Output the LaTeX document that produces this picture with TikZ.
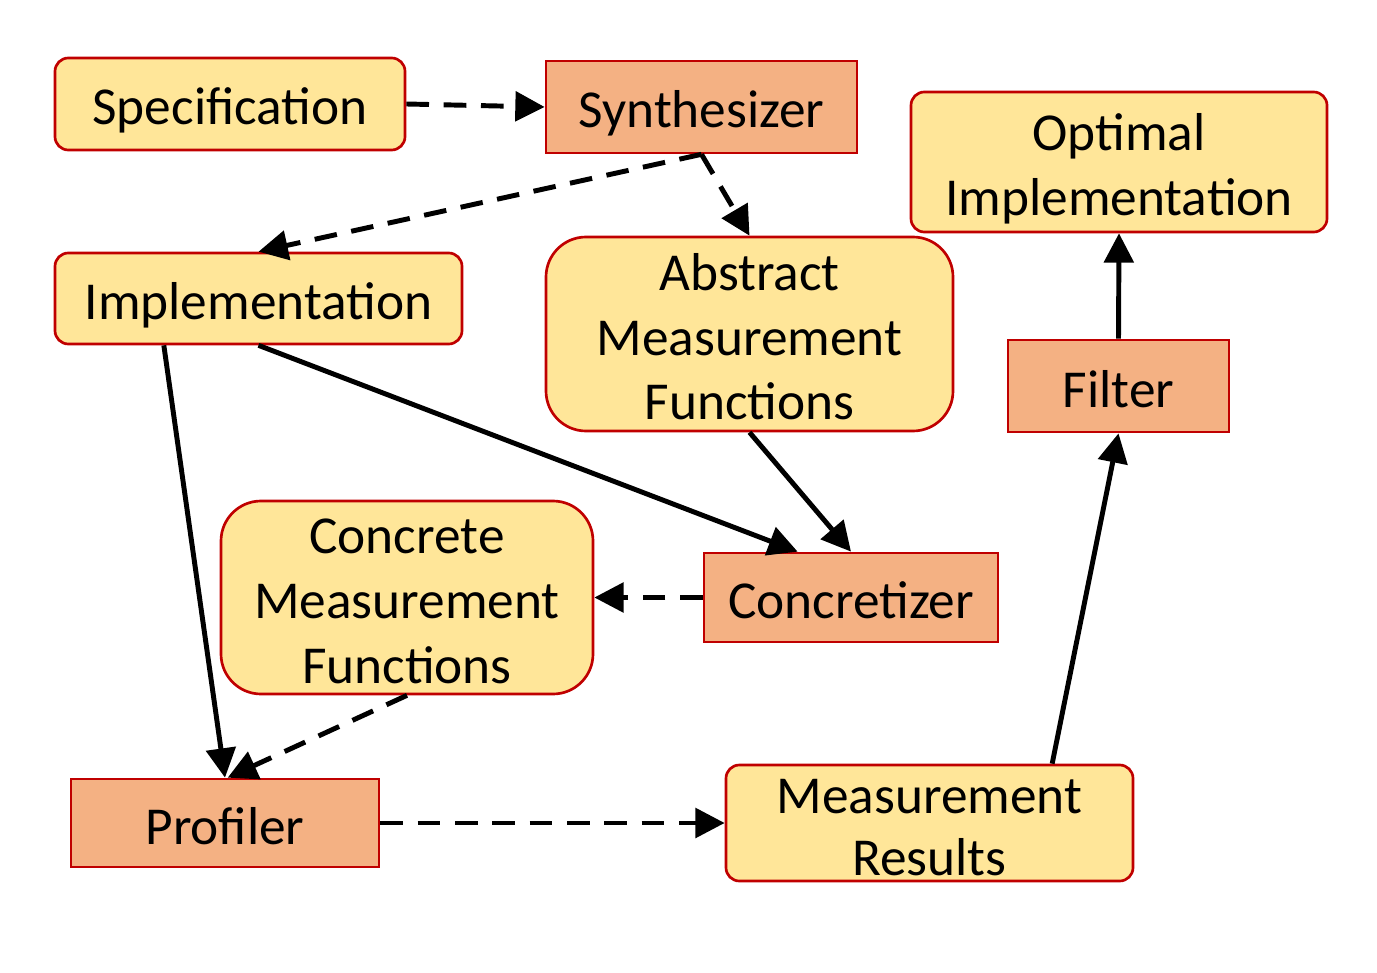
\documentclass[tikz,border=0pt]{standalone}
\usepackage{fontspec}
\setmainfont{Carlito}
\usetikzlibrary{arrows.meta,calc}
\definecolor{boxyellow}{HTML}{FFE699}
\definecolor{boxorange}{HTML}{F4B183}
\definecolor{boxred}{HTML}{C00000}
\newcommand{\ls}[1]{\rule[-3.5pt]{0pt}{38.5pt}\smash{#1}}
\newcommand{\boxfont}{\fontsize{40}{48.4}\selectfont\lineskiplimit=-100pt\relax}
\tikzset{
  base/.style={draw=boxred, line width=2pt, inner sep=0pt, align=center,
    font=\boxfont, text=black},
  rbox/.style={base, fill=boxyellow, rounded corners=10pt},
  bigbox/.style={base, fill=boxyellow, rounded corners=30pt},
  sbox/.style={base, fill=boxorange},
  conn/.style={line width=3.7pt, -{Triangle[length=22pt,width=22pt]}},
  dconn/.style={conn, dash pattern=on 17pt off 11pt},
}
\begin{document}
\begin{tikzpicture}[x=0.75pt,y=-0.75pt]
\useasboundingbox (0,0) rectangle (1377,973);
\node[rbox, minimum width=262.5pt, minimum height=69pt] (spec) at (230,104) {\ls{Specification}};
\node[sbox, minimum width=233.25pt, minimum height=69pt] (synth) at (701.5,107) {\ls{Synthesizer}};
\node[rbox, minimum width=312pt, minimum height=105pt] (opt) at (1119,162) {\ls{Optimal}\\\ls{Implementation}};
\node[rbox, minimum width=305.25pt, minimum height=68.25pt] (impl) at (258.5,298.5) {\ls{Implementation}};
\node[bigbox, minimum width=305.25pt, minimum height=145.5pt] (abs) at (749.5,334) {\ls{Abstract}\\\ls{Measurement}\\\ls{Functions}};
\node[sbox, minimum width=165.75pt, minimum height=69pt] (filter) at (1118.5,386) {\ls{Filter}};
\node[bigbox, minimum width=279pt, minimum height=144.75pt] (conc) at (407,597.5) {\ls{Concrete}\\\ls{Measurement}\\\ls{Functions}};
\node[sbox, minimum width=220.5pt, minimum height=66.75pt] (cz) at (851,597.5) {\ls{Concretizer}};
\node[sbox, minimum width=231pt, minimum height=66pt] (prof) at (225,823) {\ls{Profiler}};
\node[rbox, minimum width=305.25pt, minimum height=87pt] (res) at (929.5,823) {\ls{Measurement}\\[-1.9pt]\ls{Results}};

\draw[dconn] (spec.east) -- (synth.west);
\draw[dconn] (synth.south) -- (impl.north);
\draw[dconn] (synth.south) -- (abs.north);
\draw[conn] (impl.south) -- ([xshift=-40pt]cz.north);
\draw[conn] ([xshift=-71pt]impl.south) -- (prof.north);
\draw[conn] (abs.south) -- (cz.north);
\draw[dconn] (cz.west) -- (conc.east);
\draw[dconn] (conc.south) -- ([xshift=2pt]prof.north);
\draw[dconn] (prof.east) -- (res.west);
\draw[conn] ([xshift=92pt]res.north) -- (filter.south);
\draw[conn] (filter.north) -- (opt.south);
\end{tikzpicture}
\end{document}
